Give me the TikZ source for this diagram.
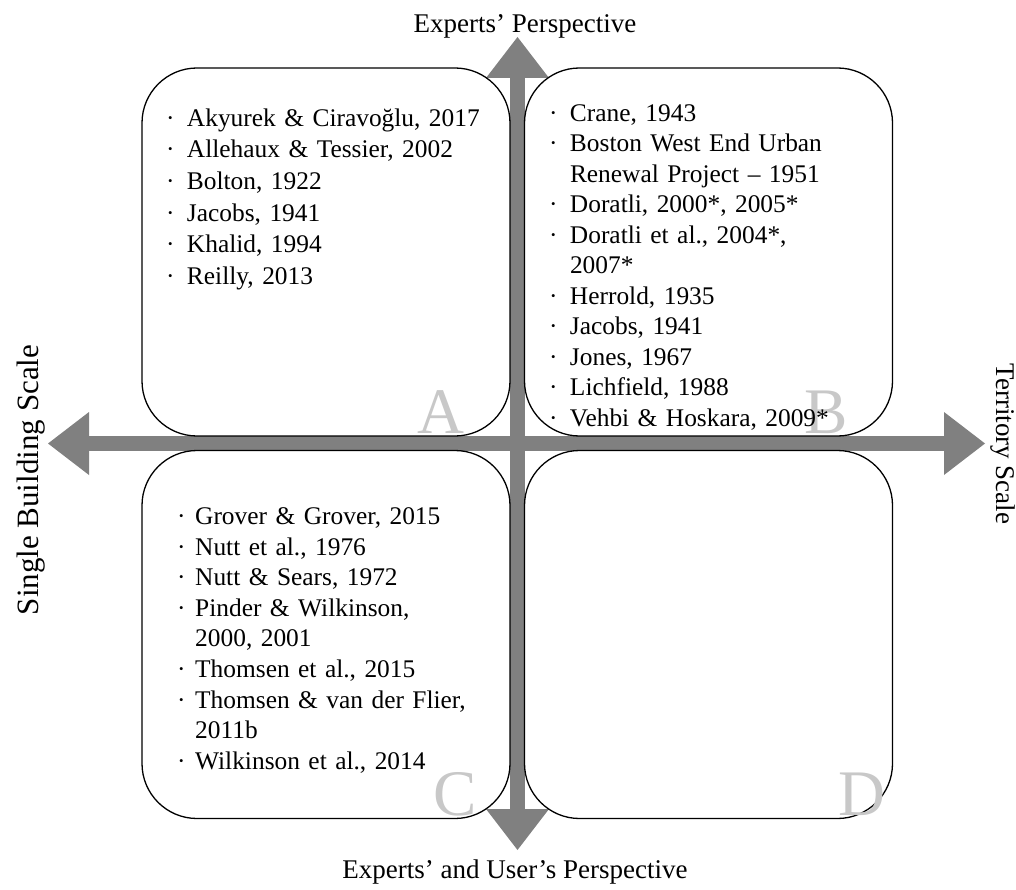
\documentclass[tikz,border=0pt]{standalone}
\usepackage{fontspec}
\setmainfont{Liberation Serif}
\usetikzlibrary{arrows.meta}
\definecolor{axisgray}{RGB}{128,128,128}
\definecolor{lettergray}{RGB}{200,200,200}
\newlength\bulw
\setlength\bulw{21pt}
% one list entry: a middle dot, then the text with a hanging indent
\newcommand\li[1]{\par\hangindent=\bulw\hangafter=1\noindent\makebox[\bulw][l]{·}\ignorespaces#1\strut}
\tikzset{
  axis/.style={line width=15pt, draw=axisgray,
    {Triangle[length=41pt,width=63pt,line width=0pt]}-{Triangle[length=41pt,width=63pt,line width=0pt]}},
  quad/.style={draw=black, line width=1.3pt, rounded corners=55pt, inner sep=0pt,
    minimum width=368pt, minimum height=368pt},
  entries/.style={anchor=north west, inner sep=0pt, text width=340pt, align=left},
  quadletter/.style={anchor=base east, inner sep=0pt, text=lettergray,
    font=\fontsize{65}{70}\selectfont},
  axislabel/.style={anchor=base, inner sep=0pt, font=\fontsize{27}{30}\selectfont}
}
\begin{document}
\begin{tikzpicture}[x=1pt, y=-1pt]
\useasboundingbox (0,0) rectangle (1016,890);

% axes
\coordinate (W) at (48,443.5);
\coordinate (E) at (985,443.5);
\coordinate (N) at (517.5,37);
\coordinate (S) at (517.5,850);
\draw[axis] (W) -- (E);
\draw[axis] (S) -- (N);

% quadrants
\node[quad] (A) at (326,252) {};
\node[quad] (B) at (708.5,252) {};
\node[quad] (C) at (326,634.5) {};
\node[quad] (D) at (708.5,634.5) {};

% quadrant letters
\node[quadletter] (la) at (465,433) {A};
\node[quadletter] (lb) at (848,433) {B};
\node[quadletter] (lc) at (477,815) {C};
\node[quadletter] (ld) at (886,815) {D};

% reference lists
\node[entries, font=\fontsize{25.4}{31.7}\selectfont] (ta) at (165.8,94.3) {%
\li{Akyurek \& Ciravoğlu, 2017}
\li{Allehaux \& Tessier, 2002}
\li{Bolton, 1922}
\li{Jacobs, 1941}
\li{Khalid, 1994}
\li{Reilly, 2013}};

\node[entries, font=\fontsize{25.4}{30.5}\selectfont] (tb) at (548.8,90.65) {%
\li{Crane, 1943}
\li{Boston West End Urban\newline Renewal Project – 1951}
\li{Doratli, 2000*, 2005*}
\li{Doratli et al., 2004*,\newline 2007*}
\li{Herrold, 1935}
\li{Jacobs, 1941}
\li{Jones, 1967}
\li{Lichfield, 1988}
\li{Vehbi \& Hoskara, 2009*}};

\node[entries, font=\fontsize{25.4}{30.6}\selectfont] (tc) at (176.8,493.6) {%
\setlength\bulw{18.2pt}%
\li{Grover \& Grover, 2015}
\li{Nutt et al., 1976}
\li{Nutt \& Sears, 1972}
\li{Pinder \& Wilkinson,\newline 2000, 2001}
\li{Thomsen et al., 2015}
\li{Thomsen \& van der Flier,\newline 2011b}
\li{Wilkinson et al., 2014}};

% axis labels
\node[axislabel] (top) at (525,33) {Experts’ Perspective};
\node[axislabel] (bottom) at (515,878) {Experts’ and User’s Perspective};
\node[axislabel, rotate=90, font=\fontsize{31}{34}\selectfont] (left) at (38,480) {Single Building Scale};
\node[axislabel, rotate=-90] (right) at (996.5,444) {Territory Scale};
\end{tikzpicture}
\end{document}
